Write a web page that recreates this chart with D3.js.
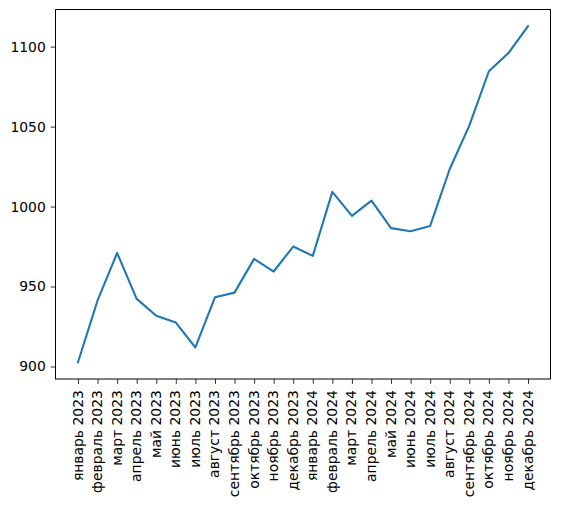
<!DOCTYPE html>
<html>
<head>
<meta charset="utf-8">
<script src="https://cdn.jsdelivr.net/npm/d3@7"></script>
<style>
  html, body { margin: 0; padding: 0; background: #fff; }
  text { font-family: "DejaVu Sans", sans-serif; }
</style>
</head>
<body>
<div id="chart"></div>
<script>
const width = 561;
const height = 506;

const months = [
  "январь 2023", "февраль 2023", "март 2023", "апрель 2023", "май 2023", "июнь 2023",
  "июль 2023", "август 2023", "сентябрь 2023", "октябрь 2023", "ноябрь 2023", "декабрь 2023",
  "январь 2024", "февраль 2024", "март 2024", "апрель 2024", "май 2024", "июнь 2024",
  "июль 2024", "август 2024", "сентябрь 2024", "октябрь 2024", "ноябрь 2024", "декабрь 2024"
];

const values = [
  902.7, 941.3, 971.0, 942.3, 931.7, 927.5,
  911.9, 943.3, 946.2, 967.3, 959.4, 975.0,
  969.2, 1009.2, 994.2, 1003.7, 986.5, 984.6,
  987.9, 1023.5, 1050.6, 1084.6, 1096.0, 1112.7
];

const yTicks = [900, 950, 1000, 1050, 1100];

const margin = { left: 55.5, right: 10.5, top: 9.5, bottom: 127 };
const plotW = width - margin.left - margin.right;
const plotH = height - margin.top - margin.bottom;

const svg = d3.select("#chart")
  .append("svg")
  .attr("width", width)
  .attr("height", height);

const g = svg.append("g")
  .attr("transform", `translate(${margin.left},${margin.top})`);

// matplotlib-style 5% margins on both axes
const n = months.length;
const xPad = (n - 1) * 0.05;
const x = d3.scaleLinear()
  .domain([-xPad, n - 1 + xPad])
  .range([0, plotW]);

const [vMin, vMax] = d3.extent(values);
const yPad = (vMax - vMin) * 0.05;
const y = d3.scaleLinear()
  .domain([vMin - yPad, vMax + yPad])
  .range([plotH, 0]);

const tickLen = 4.86;
const fontSize = 13.9;

const xAxis = d3.axisBottom(x)
  .tickValues(d3.range(n))
  .tickFormat(i => months[i])
  .tickSize(tickLen)
  .tickPadding(4.86);

const xg = g.append("g")
  .attr("transform", `translate(0,${plotH})`)
  .call(xAxis);

xg.select(".domain").remove();
xg.selectAll(".tick line").attr("stroke", "#000").attr("stroke-width", 0.8);
xg.selectAll(".tick text")
  .attr("font-size", fontSize)
  .attr("font-family", "DejaVu Sans, sans-serif")
  .attr("fill", "#000")
  .attr("dy", null)
  .attr("y", 0)
  .attr("x", 0)
  .attr("text-anchor", "end")
  .attr("dominant-baseline", "central")
  .attr("transform", `translate(-1,${tickLen + 6.3}) rotate(-90)`);

const yAxis = d3.axisLeft(y)
  .tickValues(yTicks)
  .tickFormat(d3.format("d"))
  .tickSize(tickLen)
  .tickPadding(4.86);

const yg = g.append("g").call(yAxis);
yg.select(".domain").remove();
yg.selectAll(".tick line").attr("stroke", "#000").attr("stroke-width", 0.8);
yg.selectAll(".tick text")
  .attr("font-size", fontSize)
  .attr("font-family", "DejaVu Sans, sans-serif")
  .attr("fill", "#000");

const line = d3.line()
  .x((d, i) => x(i))
  .y(d => y(d));

g.append("path")
  .datum(values)
  .attr("fill", "none")
  .attr("stroke", "#1f77b4")
  .attr("stroke-width", 2.1)
  .attr("stroke-linejoin", "round")
  .attr("stroke-linecap", "square")
  .attr("d", line);

g.append("rect")
  .attr("width", plotW)
  .attr("height", plotH)
  .attr("fill", "none")
  .attr("stroke", "#000")
  .attr("stroke-width", 1);
</script>
</body>
</html>
